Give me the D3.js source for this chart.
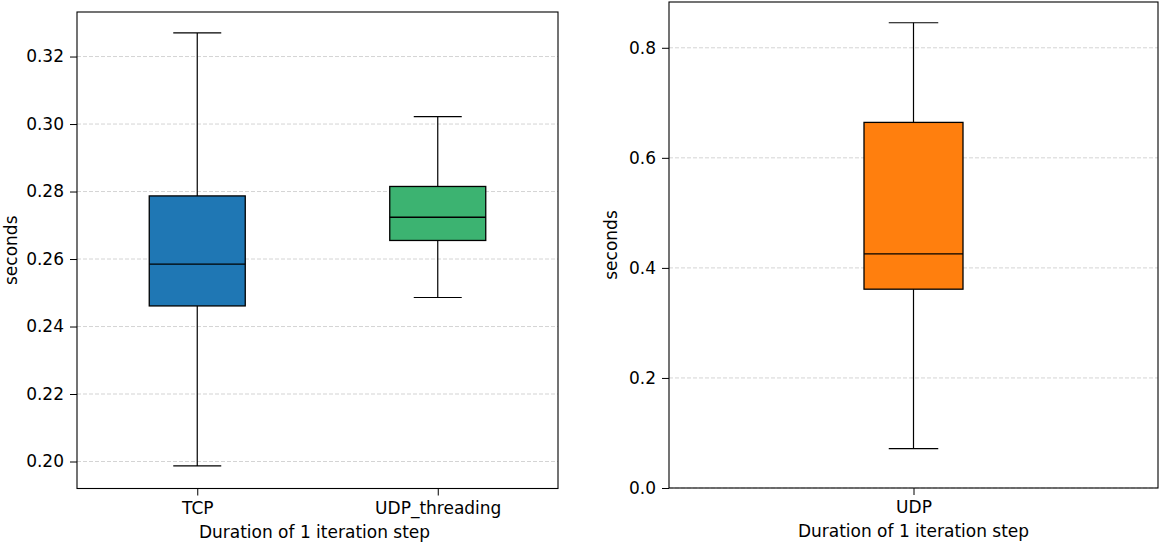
<!DOCTYPE html>
<html>
<head>
<meta charset="utf-8">
<script src="https://cdn.jsdelivr.net/npm/d3@7"></script>
<style>
body { margin: 0; background: #fff; }
svg text { font-family: "DejaVu Sans", sans-serif; fill: #000; }
</style>
</head>
<body>
<svg id="chart" width="1159" height="544"></svg>
<script>
// box stats: [min, q1, median, q3, max]
var leftNames = ["TCP", "UDP_threading"];
var leftStats = [
  [0.1987, 0.2461, 0.2585, 0.2787, 0.3270],
  [0.2486, 0.2655, 0.2724, 0.2815, 0.3022]
];
var leftColors = ["#1f77b4", "#3cb371"];
var leftTicks = [0.20, 0.22, 0.24, 0.26, 0.28, 0.30, 0.32];

var rightNames = ["UDP"];
var rightStats = [
  [0.0716, 0.3613, 0.4255, 0.6644, 0.8455]
];
var rightColors = ["#ff7f0e"];
var rightTicks = [0.0, 0.2, 0.4, 0.6, 0.8];

var FS = "17px";
var svg = d3.select("#chart");

function panel(opt) {
  var g = svg.append("g");
  var x = d3.scaleLinear().domain([0.5, opt.names.length + 0.5]).range([opt.x0, opt.x1]);
  var y = d3.scaleLinear().domain(opt.ydom).range([opt.y1, opt.y0]);

  // grid
  g.selectAll(".grid").data(opt.ticks).enter().append("line")
    .attr("x1", opt.x0).attr("x2", opt.x1)
    .attr("y1", function(d){ return y(d); }).attr("y2", function(d){ return y(d); })
    .attr("stroke", "#b0b0b0").attr("stroke-opacity", 0.55)
    .attr("stroke-dasharray", "4,2").attr("stroke-width", 1);

  var half = opt.boxW / 2;
  opt.stats.forEach(function(s, i) {
    var cx = x(i + 1);
    // whiskers
    g.append("line").attr("x1", cx).attr("x2", cx).attr("y1", y(s[0])).attr("y2", y(s[1]))
      .attr("stroke", "#000").attr("stroke-width", 1.2);
    g.append("line").attr("x1", cx).attr("x2", cx).attr("y1", y(s[3])).attr("y2", y(s[4]))
      .attr("stroke", "#000").attr("stroke-width", 1.2);
    // caps
    [s[0], s[4]].forEach(function(v) {
      g.append("line").attr("x1", cx - half / 2).attr("x2", cx + half / 2)
        .attr("y1", y(v)).attr("y2", y(v)).attr("stroke", "#000").attr("stroke-width", 1.2);
    });
    // box
    g.append("rect").attr("x", cx - half).attr("width", opt.boxW)
      .attr("y", y(s[3])).attr("height", y(s[1]) - y(s[3]))
      .attr("fill", opt.colors[i]).attr("stroke", "#000").attr("stroke-width", 1.3);
    // median
    g.append("line").attr("x1", cx - half).attr("x2", cx + half)
      .attr("y1", y(s[2])).attr("y2", y(s[2])).attr("stroke", "#000").attr("stroke-width", 1.4);
  });

  // frame
  g.append("rect").attr("x", opt.x0).attr("y", opt.y0)
    .attr("width", opt.x1 - opt.x0).attr("height", opt.y1 - opt.y0)
    .attr("fill", "none").attr("stroke", "#000").attr("stroke-width", 1.1);

  // y axis
  var ay = d3.axisLeft(y).tickValues(opt.ticks).tickFormat(d3.format(opt.fmt)).tickSize(7).tickPadding(6);
  var gy = g.append("g").attr("transform", "translate(" + opt.x0 + ",0)").call(ay);
  gy.select(".domain").remove();
  gy.attr("font-size", null).attr("font-family", null);
  gy.selectAll("text").style("font-size", FS);

  // x axis
  var ax = d3.axisBottom(x).tickValues(d3.range(1, opt.names.length + 1))
    .tickFormat(function(d){ return opt.names[d - 1]; }).tickSize(7).tickPadding(6);
  var gx = g.append("g").attr("transform", "translate(0," + opt.y1 + ")").call(ax);
  gx.select(".domain").remove();
  gx.attr("font-size", null).attr("font-family", null);
  gx.selectAll("text").style("font-size", FS);

  g.append("text").attr("x", (opt.x0 + opt.x1) / 2 + opt.xlabDx).attr("y", opt.y1 + 49)
    .attr("text-anchor", "middle").style("font-size", FS).text("Duration of 1 iteration step");
  g.append("text").attr("transform", "translate(" + opt.ylabX + "," + (opt.y0 + opt.y1) / 2 + ") rotate(-90)")
    .attr("text-anchor", "middle").style("font-size", FS).text("seconds");
}

panel({ names: leftNames, stats: leftStats, colors: leftColors, ticks: leftTicks, fmt: ".2f",
  x0: 77, x1: 558, y0: 12, y1: 488.5, ydom: [0.1920, 0.3332], boxW: 96, ylabX: 17, xlabDx: -3 });
panel({ names: rightNames, stats: rightStats, colors: rightColors, ticks: rightTicks, fmt: ".1f",
  x0: 669, x1: 1158, y0: 2, y1: 488, ydom: [0, 0.8832], boxW: 99, ylabX: 617, xlabDx: 0 });
</script>
</body>
</html>
